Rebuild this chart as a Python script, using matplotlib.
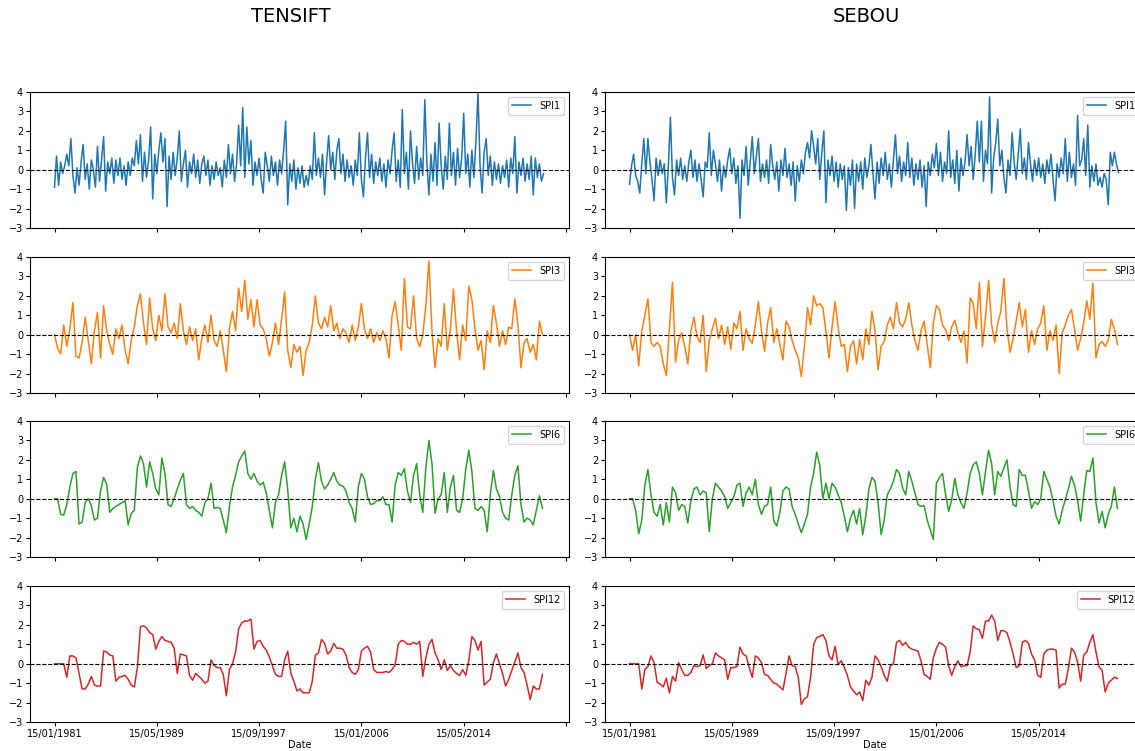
import numpy as np
import matplotlib
matplotlib.use("Agg")
import matplotlib.pyplot as plt

# ---------------- data ----------------
basins = ["TENSIFT", "SEBOU"]
indices = ["SPI1", "SPI3", "SPI6", "SPI12"]
colors = ["#1f77b4", "#ff7f0e", "#2ca02c", "#d62728"]

tick_months = [0, 100, 200, 300, 400, 500]
tick_labels = ["15/01/1981", "15/05/1989", "15/09/1997", "15/01/2006", "15/05/2014", ""]
n_months = 480

spi1_months = np.arange(0, 480, 2)
spi_months = np.arange(0, 480, 3)

tensift_spi1 = [
    -0.9, 0.7, -0.8, 0.4, -0.2, 0.2, 0.8, 0.2, 1.6, -0.3,
    -1.2, 0.1, -0.8, 0.4, 1.3, -0.5, 0.3, -1.0, 0.5, 0.0,
    -0.9, 1.2, -0.6, 0.5, 1.7, -1.1, 0.4, -0.2, 0.6, -0.7,
    0.5, -0.3, 0.6, -0.5, 0.2, -0.8, 0.4, -0.3, 0.6, 0.2,
    1.5, 0.3, 1.8, -0.6, 0.9, -0.4, 0.5, 2.2, -1.5, 0.8,
    -0.2, 1.0, 1.9, 0.4, 1.6, -1.9, 0.7, -0.5, 0.9, -0.3,
    0.6, 2.0, -0.6, 0.3, 1.0, -0.9, 0.4, -0.2, 0.8, -0.4,
    0.5, -0.7, 0.3, 0.7, -0.3, 0.5, -0.8, 0.2, -0.5, 0.4,
    -0.3, 0.1, -0.9, 0.5, -0.4, 1.3, -0.2, 0.8, -0.6, 0.3,
    2.3, 0.2, 3.2, -0.4, 2.2, 0.3, 1.5, -0.8, 0.4, -0.3,
    0.6, -0.5, -1.2, 0.9, 0.2, -0.6, 0.7, -0.3, 0.4, -0.8,
    0.5, -0.2, 1.0, 2.5, -1.8, 0.3, -0.6, 0.5, -1.0, 0.1,
    -0.7, 0.2, -0.9, -0.3, -0.8, 0.2, -0.5, 1.9, -0.3, 0.6,
    -0.4, 0.8, -1.3, 0.4, 1.75, 0.0, 0.9, -0.5, 1.0, 1.6,
    -0.2, 0.8, -0.6, 0.5, -0.4, 0.2, -0.8, 0.5, -0.3, 1.9,
    -0.5, -1.4, 0.6, 1.9, -0.4, 0.8, -0.7, 0.4, -0.3, 0.6,
    -0.6, 0.3, -0.9, 0.5, -0.2, 1.0, 1.9, -0.6, 0.5, -0.9,
    3.1, -0.2, 0.9, -1.0, 2.0, 0.3, -0.7, 1.2, -0.5, 0.6,
    -0.3, 3.6, 0.4, -1.3, 0.8, -0.6, 1.4, -0.8, 2.4, 0.2,
    -1.0, 0.7, -0.5, 2.4, -0.3, 0.9, -0.8, 1.1, -0.4, 0.6,
    2.9, -0.2, 0.8, -0.9, 1.0, -0.4, 1.5, 4.0, 0.2, -1.2,
    0.9, 1.6, -0.3, 0.7, -0.8, 0.4, -0.5, 0.3, -0.7, 0.2,
    -0.4, 0.5, -0.9, 0.6, -0.2, 1.7, -1.2, 0.4, -0.3, 0.6,
    -0.6, 0.3, -0.5, 0.7, -1.3, 0.6, -0.4, 0.3, -0.6, -0.2,
]

sebou_spi1 = [
    -0.75, 0.2, 0.8, -0.3, -0.6, -1.2, 0.3, 1.6, -0.2, 1.6,
    0.4, -0.5, -1.6, 0.6, -0.3, 0.5, -0.2, 0.3, -1.7, 0.2,
    2.7, -0.4, -1.3, 0.5, -0.3, 0.6, -0.5, 0.2, -0.6, 0.4,
    1.0, -0.4, 0.5, -0.6, 0.3, -0.5, -1.4, 0.4, 0.1, 1.9,
    -0.3, 1.0, 0.3, -0.6, 0.5, -1.1, 0.2, -0.4, 0.5, 1.1,
    -0.2, 0.6, -0.7, 0.2, -2.5, 0.5, -0.3, 1.2, -0.8, 0.4,
    1.7, -0.2, 0.7, 1.6, -0.6, 0.3, -0.4, 0.5, -0.7, 1.3,
    0.2, -0.5, 0.4, -1.1, 0.5, -0.3, 1.1, -0.4, 0.3, -0.8,
    0.4, -1.6, 0.2, -0.6, 0.5, -0.2, 0.9, 1.4, 0.6, 2.0,
    1.2, 0.3, 1.6, -0.5, 0.9, 2.0, -1.7, 0.5, -0.3, 0.7,
    -0.6, 0.4, -0.9, 0.3, -0.5, 0.2, -2.1, 0.1, -0.8, 0.5,
    -2.0, 0.3, -0.6, 0.4, -1.0, 0.6, -0.4, 0.2, 1.3, -0.2,
    -1.5, 0.4, -0.7, 0.6, -0.3, 0.9, -0.5, 0.3, -0.9, 0.5,
    1.8, -0.2, 0.7, -0.6, 0.4, -0.3, 1.4, -0.4, 0.6, -0.8,
    0.3, -0.5, 0.5, -0.9, 0.2, -1.9, 0.4, -0.3, 0.8, 0.1,
    1.35, -0.3, 0.9, -0.6, 0.4, -0.2, 2.0, -0.4, 0.5, -0.7,
    1.0, -1.1, 0.6, -0.3, 0.4, 1.8, 0.2, 1.2, -0.5, 0.8,
    2.5, 0.4, 2.5, -0.6, 1.0, 0.3, 3.75, -1.2, 0.6, 1.4,
    2.6, 0.2, 1.0, -0.4, -1.2, 0.5, -0.3, 1.9, 0.4, -0.5,
    0.8, 2.1, -0.2, 0.6, -0.5, 1.4, 0.3, -0.6, 0.5, -0.3,
    0.6, -0.4, 0.3, -0.7, 0.5, -0.2, 0.8, -0.5, -1.6, 0.3,
    -0.4, 0.6, -0.2, 1.6, -0.6, 0.9, -0.4, 0.3, -0.8, 2.8,
    0.2, 0.5, 1.6, -0.3, 2.3, -0.9, 0.2, -0.6, 0.3, -0.8,
    -0.4, -0.9, -0.2, -0.5, -1.8, 0.9, 0.2, 0.9, 0.3, -0.15,
]

tensift_spi3 = [
    0.0, -0.7, -1.0, 0.5, -0.6, 0.3, 1.65, -1.1, -1.2, -0.4,
    0.9, -0.3, -1.5, 0.2, 1.15, -1.2, 1.5, 0.2, -0.5, -1.0,
    0.3, -0.2, 0.5, -0.8, -1.5, -0.3, 0.4, 1.5, 2.1, 0.6,
    -0.5, 1.9, 0.3, -0.3, 1.0, 0.2, 2.1, 0.4, 0.1, 0.6,
    -0.2, 1.6, 0.2, -0.5, 0.4, -0.3, 0.3, -1.3, -0.2, 0.5,
    -0.4, 1.0, -0.3, -0.6, 0.2, -0.8, -1.9, 0.3, 1.2, 0.2,
    2.4, 1.2, 2.8, 0.8, 1.8, 0.4, 1.8, 0.5, 0.3, -0.2,
    -1.1, -0.4, 0.6, -0.5, 0.8, 2.2, -0.8, -1.7, -0.5, -0.9,
    -0.6, -2.1, -0.8, -0.4, 0.5, 2.0, 0.6, 0.3, 0.9, 0.4,
    1.5, 0.2, 0.6, -0.2, 0.3, 0.1, -0.4, 0.5, -0.3, 0.4,
    1.6, 0.3, -0.2, 0.3, -0.4, 0.1, -0.3, 0.2, -0.2, -1.2,
    1.0, 1.7, 0.5, -0.8, 2.9, 0.4, 0.3, 2.0, -0.2, -0.6,
    0.0, 1.5, 3.8, 0.2, -1.7, -0.2, -0.6, 1.6, -0.8, 0.3,
    2.35, 0.2, -1.3, 0.5, -0.3, 2.5, 1.8, 0.3, -0.8, -0.3,
    -1.8, 0.2, -0.4, 1.5, 0.6, -0.6, 0.2, -0.5, 0.4, 0.3,
    1.85, 0.5, -1.7, -0.4, -0.2, -0.9, -0.5, -1.3, 0.7, 0.0,
]

sebou_spi3 = [
    0.0, -0.8, 0.0, -1.6, 0.2, 1.0, 1.85, -0.4, -0.6, -0.4,
    -0.6, -1.5, -2.1, 0.3, 2.7, -1.4, -0.3, 0.1, -0.6, -1.5,
    0.2, 0.9, -0.1, -0.4, 1.0, -1.9, -0.3, 0.3, 0.85, -0.2,
    0.5, -0.5, 0.4, -0.75, 0.6, 0.3, 1.2, -0.8, 0.3, -0.2,
    -0.45, 0.5, 1.7, 0.2, -0.85, 0.6, 1.4, -0.4, 0.3, -0.5,
    -1.3, 0.7, 0.4, -0.3, -0.8, -1.2, -2.15, -0.6, 1.4, 0.5,
    2.0, 1.5, 1.6, 1.4, 0.2, -1.2, 0.4, 1.7, 0.35, -0.6,
    -0.5, -1.9, -0.6, -0.3, -1.5, -0.25, -1.3, 0.3, -0.5, 1.2,
    0.2, -1.8, -0.6, -0.35, 0.5, 0.9, 0.3, 1.65, 0.6, 0.4,
    0.8, 1.65, 0.5, -0.3, -0.8, 0.2, 0.7, -0.5, -1.7, 0.6,
    1.5, 1.3, 0.5, 0.25, -0.3, 0.4, 0.75, 0.1, -0.4, 0.2,
    -1.45, 1.9, 1.6, 0.3, 2.7, -0.6, 0.9, 2.8, 0.5, -0.4,
    0.6, 1.2, 2.9, 0.3, -0.9, -0.2, 0.7, 1.65, 0.4, 1.3,
    -0.9, 0.2, -0.5, 0.3, 0.6, 1.5, -0.8, 0.2, -0.3, 0.5,
    -2.0, 0.1, 0.5, 1.0, 1.3, 0.3, -0.8, -0.2, 0.6, 1.75,
    0.8, 2.65, -1.2, -0.5, -0.35, -0.6, -0.3, 0.8, 0.3, -0.5,
]

tensift_spi6 = [
    0.0, 0.0, -0.8, -0.85, -0.3, 0.6, 1.3, 1.4, -1.3, -1.2,
    -0.2, 0.0, -0.35, -1.1, -1.0, 0.4, 1.1, 0.75, -0.7, -0.5,
    -0.4, -0.3, -0.2, -0.1, -1.35, -0.75, -0.6, 1.6, 2.2, 1.8,
    0.6, 1.9, 1.3, 0.5, 0.2, 2.1, 1.3, -0.3, -0.4, 0.0,
    0.5, 0.95, 1.3, -0.3, -0.5, -0.4, -0.6, -0.7, -0.9, -0.2,
    0.0, 0.8, -0.5, -0.45, -0.5, -1.1, -1.75, -0.4, 0.6, 1.2,
    1.9, 2.2, 2.45, 1.3, 1.0, 1.3, 0.9, 0.7, 0.85, 0.3,
    -0.6, -1.5, -0.2, 0.2, 1.2, 1.9, 0.45, -1.5, -1.0, -1.7,
    -0.9, -1.3, -2.1, -1.3, -0.4, 1.0, 1.85, 0.9, 0.5, 0.7,
    1.0, 1.35, 0.9, 0.7, 0.65, 0.4, -0.2, -0.5, -1.2, 0.6,
    1.3, 1.0, 0.1, -0.3, -0.25, -0.1, -0.1, 0.1, -0.3, -0.3,
    -1.2, 0.7, 1.35, 1.2, 1.55, 0.4, -0.2, 1.2, 1.8, 0.2,
    -0.7, 1.6, 3.0, 1.8, -0.75, 0.0, 0.2, 1.35, -0.7, 0.6,
    1.2, -0.6, -0.7, 0.0, 1.5, 2.5, 1.4, -0.5, -0.6, -0.4,
    -0.6, -1.7, 0.2, 1.45, 0.5, 0.1, -0.7, -1.0, -1.1, 0.2,
    1.2, 1.7, -0.3, -1.2, -1.0, -1.1, -1.35, -0.6, 0.15, -0.5,
]

sebou_spi6 = [
    0.0, 0.0, -0.6, -1.8, -1.1, 0.7, 1.5, 0.2, -0.7, -0.9,
    -0.3, -1.35, -0.2, -1.2, 0.6, 0.3, -0.6, -0.3, -0.4, -1.25,
    -0.1, 0.5, 0.6, 0.2, 0.4, 0.3, -1.7, 0.0, 0.8, 0.6,
    0.4, 0.1, -0.5, -0.2, 0.1, 0.7, 0.8, -0.4, 0.3, 0.6,
    0.2, 1.0, -0.3, -0.8, -0.4, -0.3, 0.6, -1.15, -1.4, -0.7,
    0.4, 0.6, 0.5, -0.4, -0.8, -1.3, -1.75, -1.3, -0.8, 0.6,
    1.3, 2.4, 1.7, 0.0, 0.8, 0.0, 0.8, 0.6, 0.2, -0.2,
    -0.9, -1.7, -1.0, -0.6, -1.3, -0.5, -1.85, -0.9, 0.5, 1.1,
    0.9, -0.2, -1.85, -1.1, 0.2, 0.5, 0.9, 1.5, 1.3, 0.55,
    0.2, 1.4, 0.9, 0.3, -0.3, -0.4, -0.35, -1.1, -1.6, -2.1,
    0.8, 1.1, 1.3, 0.2, -0.65, -0.05, 1.05, 0.2, -0.2, -0.5,
    0.3, 1.3, 1.75, 1.9, 1.3, 0.2, 1.4, 2.5, 1.8, 0.2,
    1.4, 1.15, 1.6, 2.0, 0.6, -0.3, -0.4, 1.5, 1.2, 1.2,
    0.4, -0.5, -0.15, -0.3, 0.0, 1.4, 1.0, 0.6, -0.1, -0.9,
    -1.3, -0.6, -0.05, 0.5, 1.15, 0.7, -0.1, -1.15, 0.2, 1.45,
    1.4, 2.1, -0.2, -1.25, -0.65, -1.5, -0.8, -0.4, 0.6, -0.5,
]

tensift_spi12 = [
    0.0, 0.0, 0.0, 0.0, -0.7, 0.4, 0.4, 0.3, -0.5, -1.3,
    -1.3, -1.05, -0.65, -1.1, -1.15, -1.15, 0.65, 0.6, 0.45, 0.4,
    -0.9, -0.7, -0.65, -0.6, -0.8, -1.1, -1.2, -0.2, 1.9, 1.95,
    1.85, 1.6, 1.5, 0.75, 1.15, 1.4, 1.2, 1.15, 1.1, 0.8,
    -0.5, 0.5, 0.45, 0.4, -0.6, -0.85, -0.5, -0.65, -0.8, -1.0,
    -0.9, 0.2, -0.1, -0.2, -0.2, -0.55, -1.65, -0.3, 0.0, 0.6,
    1.8, 2.1, 2.2, 2.2, 2.3, 0.75, 1.15, 1.2, 0.9, 0.7,
    0.35, -0.1, -0.55, -0.65, -0.65, 0.2, 0.65, -0.5, -0.9, -1.4,
    -1.3, -1.5, -1.5, -1.5, -0.9, 0.45, 0.55, 1.25, 1.05, 0.5,
    0.65, 1.05, 0.8, 0.8, 0.75, 0.45, -0.2, -0.45, -0.55, -0.3,
    0.65, 0.8, 0.9, 0.6, -0.3, -0.45, -0.45, -0.45, -0.4, -0.45,
    -0.3, -0.05, 1.0, 1.2, 1.15, 1.0, 1.0, 1.1, 1.0, 1.15,
    -0.65, 0.3, 1.0, 1.25, 0.55, 0.2, -0.3, 0.2, -0.35, -0.1,
    -0.35, -0.5, -0.6, -0.3, -0.6, 0.15, 1.4, 1.2, 0.7, 1.15,
    -1.1, -0.95, -0.8, 0.05, 0.5, 0.0, -0.5, -1.15, -0.8, -0.35,
    0.1, 0.55, -0.2, -0.45, -1.1, -1.85, -1.15, -1.3, -1.3, -0.55,
]

sebou_spi12 = [
    0.0, 0.0, 0.0, 0.0, -1.3, -0.3, -0.15, 0.4, 0.05, -0.95,
    -1.05, -1.2, -0.75, -1.5, -0.65, -0.9, 0.05, -0.3, -0.6, -0.6,
    -0.45, -0.1, -0.15, -0.1, 0.45, -0.25, -0.1, 0.0, 0.55, 0.4,
    0.3, 0.2, -0.8, -0.2, -0.2, -0.15, 0.85, 0.5, 0.4, -0.2,
    -0.7, 0.4, 0.3, 0.05, -0.55, -0.6, -0.8, -1.0, -1.05, -1.2,
    -1.35, -0.5, 0.4, -0.1, -0.15, -0.7, -2.1, -1.8, -1.7, -0.7,
    1.0, 1.35, 1.4, 1.5, 1.2, 0.4, 0.2, 0.9, -0.05, 0.15,
    -0.2, -0.6, -1.2, -1.4, -1.6, -1.45, -1.9, -0.85, -1.1, -0.7,
    0.4, 0.2, -0.15, -0.6, -0.9, -0.1, 0.0, 1.1, 1.2, 0.95,
    1.1, 0.85, 0.75, 0.7, 0.65, 0.15, -0.55, -0.65, -0.8, 0.3,
    0.8, 1.1, 1.0, 0.85, -0.1, -0.6, -0.15, 0.15, -0.15, -0.1,
    -0.1, 0.6, 1.95, 1.8, 1.75, 1.3, 2.2, 2.2, 2.5, 2.2,
    1.2, 1.7, 1.7, 1.6, 1.1, 0.5, -0.2, -0.1, 1.1, 1.2,
    1.05, 0.5, 0.2, -0.6, -0.7, 0.5, 0.7, 0.75, 0.75, 0.7,
    -1.25, -1.05, -1.05, -0.25, 0.8, 0.6, 0.1, -0.9, 0.45, 0.6,
    1.1, 1.5, 0.6, -0.15, -0.35, -1.45, -1.0, -0.85, -0.7, -0.75,
]

series = {
    ("TENSIFT", "SPI1"): (spi1_months, tensift_spi1),
    ("TENSIFT", "SPI3"): (spi_months, tensift_spi3),
    ("TENSIFT", "SPI6"): (spi_months, tensift_spi6),
    ("TENSIFT", "SPI12"): (spi_months, tensift_spi12),
    ("SEBOU", "SPI1"): (spi1_months, sebou_spi1),
    ("SEBOU", "SPI3"): (spi_months, sebou_spi3),
    ("SEBOU", "SPI6"): (spi_months, sebou_spi6),
    ("SEBOU", "SPI12"): (spi_months, sebou_spi12),
}

# ---------------- figure ----------------
W, H = 1135, 751
fig = plt.figure(figsize=(W / 100, H / 100), dpi=100)

col_left = [30 / W, 605 / W]
ax_w = 539 / W
row_top = [92, 257, 421, 586]
ax_h = 136 / H
title_x = [291 / W, 866 / W]

for c, basin in enumerate(basins):
    fig.text(title_x[c], 1 - 16 / H, basin, ha="center", va="center", fontsize=14)
    for r, idx in enumerate(indices):
        ax = fig.add_axes([col_left[c], 1 - (row_top[r] + 136) / H, ax_w, ax_h])
        x, y = series[(basin, idx)]
        ax.plot(x, y, color=colors[r], lw=1.1, label=idx)
        ax.axhline(0, color="black", ls="--", lw=0.8)
        ax.set_ylim(-3, 4)
        ax.set_yticks(range(-3, 5))
        ax.set_xlim(-0.05 * (n_months - 1), (n_months - 1) * 1.05)
        ax.set_xticks(tick_months)
        if r == 3:
            ax.set_xticklabels(tick_labels)
            ax.set_xlabel("Date", fontsize=7, labelpad=1)
        else:
            ax.set_xticklabels([])
        ax.tick_params(labelsize=7, length=3, width=0.8, pad=2)
        for s in ax.spines.values():
            s.set_linewidth(0.8)
        ax.legend(loc="upper right", fontsize=7, handlelength=2.0,
                  borderpad=0.4, framealpha=0.8)

fig.savefig("out.png", dpi=100)
